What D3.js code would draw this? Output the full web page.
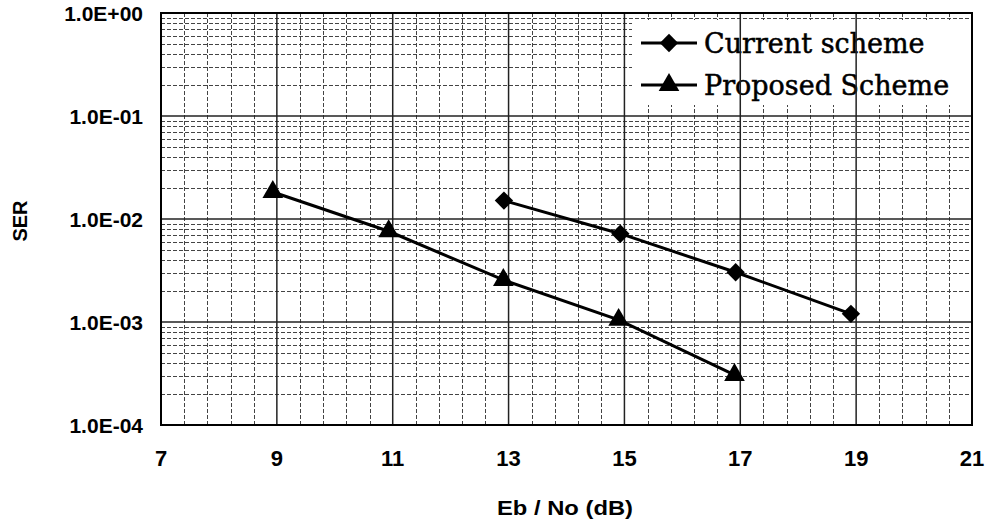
<!DOCTYPE html>
<html>
<head>
<meta charset="utf-8">
<script src="https://cdn.jsdelivr.net/npm/d3@7"></script>
<style>
  html, body { margin: 0; padding: 0; background: #fff; }
  svg { display: block; }
  .tick-label { font-family: "Liberation Sans", Arial, sans-serif; font-weight: bold; font-size: 21px; fill: #000; }
  .axis-title { font-family: "Liberation Sans", Arial, sans-serif; font-weight: bold; font-size: 20px; fill: #000; }
  .legend-text { font-family: "DejaVu Serif", serif; font-size: 27px; fill: #000; stroke: #000; stroke-width: 0.5px; }
</style>
</head>
<body>
<svg id="chart" width="986" height="524"></svg>
<script>
// Symbol error rate versus Eb/No for the two schemes
const currentEbNo = [12.92, 14.93, 16.92, 18.91];
const currentSER  = [0.0151, 0.0072, 0.00304, 0.0012];

const proposedEbNo = [8.93, 10.93, 12.91, 14.9, 16.9];
const proposedSER  = [0.0183, 0.0076, 0.00256, 0.00105, 0.000306];

const seriesNames = ["Current scheme", "Proposed Scheme"];

const xTicks = [7, 9, 11, 13, 15, 17, 19, 21];
const yTicks = [1, 1e-1, 1e-2, 1e-3, 1e-4];
const yTickLabels = ["1.0E+00", "1.0E-01", "1.0E-02", "1.0E-03", "1.0E-04"];

const svg = d3.select("#chart");
const plot = { left: 161, right: 972, top: 13, bottom: 425 };

const x = d3.scaleLinear().domain([7, 21]).range([plot.left, plot.right]);
const y = d3.scaleLog().domain([1e-4, 1]).range([plot.bottom, plot.top]);

// Grid: minor lines every 0.4 dB and at 2..9 within each decade
const xMinor = d3.range(0, 36).map(i => 7 + i * 0.4).filter(v => !xTicks.some(t => Math.abs(t - v) < 1e-6));
const yMinor = [];
[1e-4, 1e-3, 1e-2, 1e-1].forEach(d => { for (let k = 2; k <= 9; k++) yMinor.push(d * k); });

const grid = svg.append("g");
grid.selectAll("line.xminor").data(xMinor).join("line")
  .attr("x1", d => Math.round(x(d)) + 0.5).attr("x2", d => Math.round(x(d)) + 0.5)
  .attr("y1", plot.top).attr("y2", plot.bottom)
  .attr("stroke", "#444").attr("stroke-width", 1).attr("stroke-dasharray", "4,2");
grid.selectAll("line.yminor").data(yMinor).join("line")
  .attr("y1", d => Math.round(y(d)) + 0.5).attr("y2", d => Math.round(y(d)) + 0.5)
  .attr("x1", plot.left).attr("x2", plot.right)
  .attr("stroke", "#444").attr("stroke-width", 1).attr("stroke-dasharray", "4,2");

// Legend box: white fill over the minor grid
const legend = svg.append("g");
legend.append("rect")
  .attr("x", 632).attr("y", 20).attr("width", 337).attr("height", 85)
  .attr("fill", "#fff");

const majors = svg.append("g");
majors.selectAll("line.xmajor").data(xTicks.slice(1, -1)).join("line")
  .attr("x1", d => x(d)).attr("x2", d => x(d))
  .attr("y1", plot.top).attr("y2", plot.bottom)
  .attr("stroke", "#222").attr("stroke-width", 1.5);
majors.selectAll("line.ymajor").data(yTicks.slice(1, -1)).join("line")
  .attr("y1", d => y(d)).attr("y2", d => y(d))
  .attr("x1", plot.left).attr("x2", plot.right)
  .attr("stroke", "#222").attr("stroke-width", 1.5);

// Plot frame
svg.append("rect")
  .attr("x", plot.left).attr("y", plot.top)
  .attr("width", plot.right - plot.left).attr("height", plot.bottom - plot.top)
  .attr("fill", "none").attr("stroke", "#000").attr("stroke-width", 2);

// Tick labels
svg.append("g").selectAll("text").data(xTicks).join("text")
  .attr("class", "tick-label")
  .style("font-size", "22px")
  .attr("x", d => x(d)).attr("y", 466)
  .attr("text-anchor", "middle")
  .text(d => d);

svg.append("g").selectAll("text").data(yTicks).join("text")
  .attr("class", "tick-label")
  .attr("x", 143).attr("y", d => y(d) + 7.5)
  .attr("text-anchor", "end")
  .text((d, i) => yTickLabels[i]);

// Axis titles
svg.append("text").attr("class", "axis-title")
  .attr("x", 497).attr("y", 515)
  .attr("textLength", 136).attr("lengthAdjust", "spacingAndGlyphs")
  .text("Eb / No (dB)");
svg.append("text").attr("class", "axis-title")
  .attr("transform", "translate(27,221) rotate(-90)")
  .attr("text-anchor", "middle")
  .text("SER");

// Series
const line = d3.line().x(d => x(d[0])).y(d => y(d[1]));
const currentPts = currentEbNo.map((v, i) => [v, currentSER[i]]);
const proposedPts = proposedEbNo.map((v, i) => [v, proposedSER[i]]);

const diamond = d3.symbol().type(d3.symbolDiamond2).size(215);
const triangle = d3.symbol().type(d3.symbolTriangle).size(185);

function drawSeries(pts, sym) {
  const g = svg.append("g");
  g.append("path").datum(pts).attr("d", line)
    .attr("fill", "none").attr("stroke", "#000").attr("stroke-width", 3);
  g.selectAll("path.m").data(pts).join("path")
    .attr("transform", d => `translate(${x(d[0])},${y(d[1])})`)
    .attr("d", sym).attr("fill", "#000");
}
drawSeries(currentPts, diamond);
drawSeries(proposedPts, triangle);

// Legend entries
const entries = [
  { name: seriesNames[0], sym: diamond, y: 43 },
  { name: seriesNames[1], sym: triangle, y: 85 }
];
entries.forEach(e => {
  legend.append("line").attr("x1", 641).attr("x2", 697).attr("y1", e.y).attr("y2", e.y)
    .attr("stroke", "#000").attr("stroke-width", 3);
  legend.append("path").attr("transform", `translate(669,${e.y})`).attr("d", e.sym).attr("fill", "#000");
  legend.append("text").attr("class", "legend-text")
    .attr("x", 704).attr("y", e.y + 10).text(e.name);
});
</script>
</body>
</html>
